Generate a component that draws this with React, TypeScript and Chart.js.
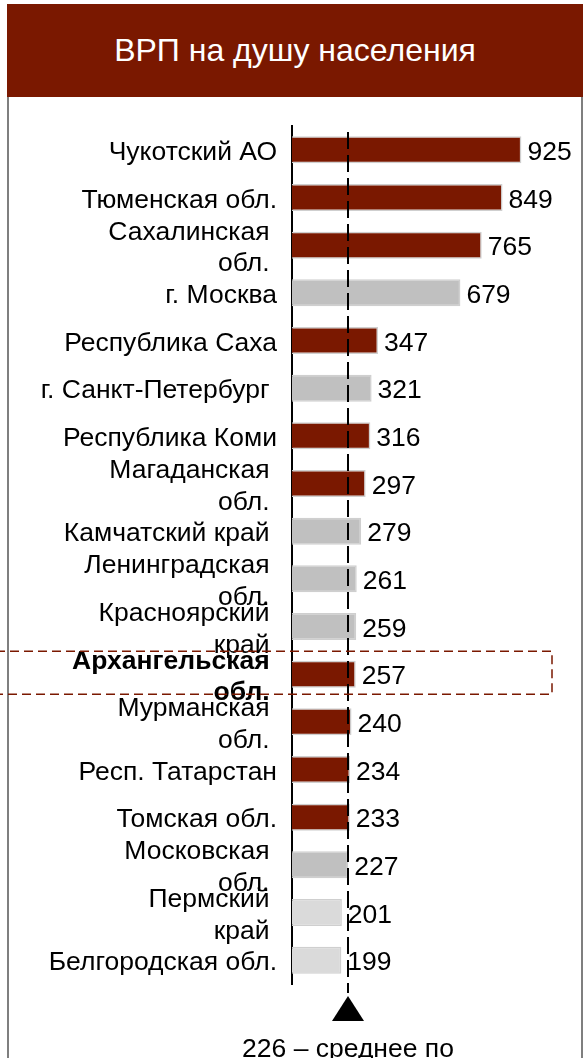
import React, { useEffect, useRef } from "react";
import { Chart, registerables } from "chart.js";

Chart.register(...registerables);

const TITLE = "ВРП на душу населения";

const regions: (string | string[])[] = [
  "Чукотский АО",
  "Тюменская обл.",
  ["Сахалинская ", "обл. "],
  "г. Москва",
  "Республика Саха",
  "г. Санкт-Петербург ",
  "Республика Коми",
  ["Магаданская ", "обл. "],
  "Камчатский край ",
  ["Ленинградская ", "обл. "],
  ["Красноярский ", "край "],
  ["Архангельская ", "обл. "],
  ["Мурманская ", "обл. "],
  "Респ. Татарстан",
  "Томская обл.",
  ["Московская ", "обл. "],
  ["Пермский ", "край "],
  "Белгородская обл.",
];

const values: number[] = [925, 849, 765, 679, 347, 321, 316, 297, 279, 261, 259, 257, 240, 234, 233, 227, 201, 199];

// r = dark red, g = gray, l = light gray
const colorKeys: string[] = ["r", "r", "r", "g", "r", "g", "r", "r", "g", "g", "g", "r", "r", "r", "r", "g", "l", "l"];

const AVERAGE = 226;
const AVERAGE_TEXT = "226 – среднее по";
const HIGHLIGHT_INDEX = 11;

const RED = "rgb(122, 24, 0)";
const PALETTE: Record<string, string> = { r: RED, g: "#c0c0c0", l: "#dadada" };
const FONT = "'Liberation Sans', Arial, sans-serif";
const FS = 26.5;

const labelShiftPlugin = {
  id: "labelShift",
  beforeDraw(chart: any) {
    const s = chart.scales.y;
    if (s && !s.__shifted) {
      const orig = s.drawLabels.bind(s);
      s.drawLabels = (area: any) => {
        const c = s.ctx as CanvasRenderingContext2D;
        c.save();
        c.translate(0, 3);
        orig(area);
        c.restore();
      };
      s.__shifted = true;
    }
  },
};

const overlayPlugin = {
  id: "overlay",
  afterDatasetsDraw(chart: any) {
    const ctx = chart.ctx as CanvasRenderingContext2D;
    const xs = chart.scales.x;
    const ys = chart.scales.y;
    const area = chart.chartArea;
    const meta = chart.getDatasetMeta(0);
    ctx.save();
    // value labels
    ctx.fillStyle = "#000";
    ctx.font = `${FS}px ${FONT}`;
    ctx.textAlign = "left";
    ctx.textBaseline = "middle";
    meta.data.forEach((el: any, i: number) => {
      ctx.fillText(String(values[i]), el.x + 6, el.y + 3);
    });
    // average dashed line
    const xa = Math.round(xs.getPixelForValue(AVERAGE));
    ctx.strokeStyle = "#000";
    ctx.lineWidth = 2;
    ctx.setLineDash([17, 6]);
    ctx.beginPath();
    ctx.moveTo(xa, area.top + 6);
    ctx.lineTo(xa, area.bottom + 9);
    ctx.stroke();
    ctx.setLineDash([]);
    // triangle
    const tTop = area.bottom + 12;
    ctx.beginPath();
    ctx.moveTo(xa, tTop);
    ctx.lineTo(xa + 16, tTop + 25);
    ctx.lineTo(xa - 16, tTop + 25);
    ctx.closePath();
    ctx.fillStyle = "#000";
    ctx.fill();
    // average text
    ctx.textAlign = "center";
    ctx.fillText(AVERAGE_TEXT, xa, tTop + 54);
    // highlight box
    const yc = ys.getPixelForValue(HIGHLIGHT_INDEX);
    ctx.strokeStyle = RED;
    ctx.lineWidth = 1.5;
    ctx.setLineDash([9, 5]);
    ctx.strokeRect(-4, yc - 23, 556, 43);
    ctx.restore();
  },
};

export default function App() {
  const ref = useRef<HTMLCanvasElement>(null);
  useEffect(() => {
    if (!ref.current) return;
    const chart = new Chart(ref.current, {
      type: "bar",
      data: {
        labels: regions as any,
        datasets: [
          {
            data: values,
            backgroundColor: colorKeys.map((k) => PALETTE[k]),
            borderColor: "#cfcfcf",
            borderWidth: 1.5,
            barPercentage: 1,
            categoryPercentage: 0.566,
          },
        ],
      },
      options: {
        indexAxis: "y",
        animation: false,
        responsive: false,
        devicePixelRatio: 1,
        layout: { padding: { left: 0, right: 47, top: 126, bottom: 74 } },
        plugins: { legend: { display: false }, tooltip: { enabled: false }, title: { display: false } },
        scales: {
          x: { display: false, min: 0, max: 1000 },
          y: {
            type: "category",
            position: "left",
            afterFit: (s: any) => {
              s.width = 292;
            },
            grid: { display: false, drawTicks: false },
            border: { display: true, color: "#000", width: 2 },
            ticks: {
              autoSkip: false,
              padding: 15,
              color: "#000",
              font: (c: any) => ({
                family: FONT,
                size: FS,
                lineHeight: 1.2,
                weight: c.index === HIGHLIGHT_INDEX ? "bold" : "normal",
              }),
            },
          },
        },
      },
      plugins: [labelShiftPlugin, overlayPlugin],
    });
    return () => chart.destroy();
  }, []);

  return (
    <div style={{ position: "absolute", left: 0, top: 0, width: 587, height: 1058, overflow: "hidden", background: "#fff" }}>
      <div
        style={{
          position: "absolute",
          left: 7,
          top: 4,
          width: 576,
          height: 93,
          background: RED,
          color: "#fff",
          fontFamily: FONT,
          fontSize: 32,
          display: "flex",
          alignItems: "center",
          justifyContent: "center",
        }}
      >
        {TITLE}
      </div>
      <div style={{ position: "absolute", left: 7, top: 97, width: 2, height: 961, background: "#7f7f7f" }} />
      <div style={{ position: "absolute", left: 581, top: 97, width: 2, height: 961, background: "#7f7f7f" }} />
      <canvas ref={ref} width={587} height={1058} style={{ position: "absolute", left: 0, top: 0, width: 587, height: 1058 }} />
    </div>
  );
}
